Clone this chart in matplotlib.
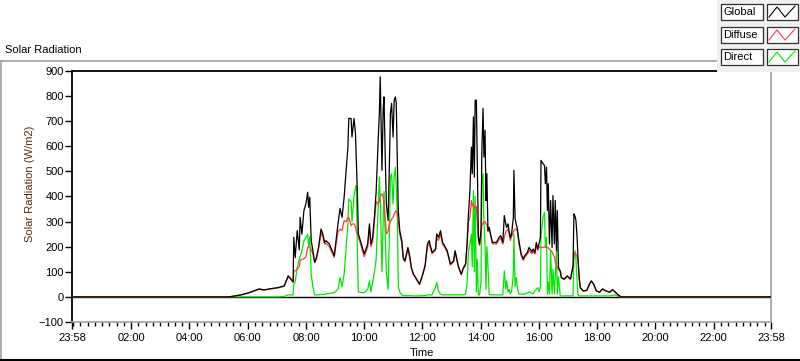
import matplotlib
matplotlib.use("Agg")
import matplotlib.pyplot as plt
from matplotlib.lines import Line2D
from matplotlib.patches import Rectangle
from matplotlib.ticker import FixedLocator, MultipleLocator

# --- data (time in hours, radiation in W/m2) ---
time_h = [
    -0.03, 5.36, 5.77, 6.05, 6.39, 6.56, 6.80, 7.04, 7.25, 7.39, 7.49, 7.56,
    7.58, 7.63, 7.70, 7.77, 7.80, 7.86, 7.93, 8.00, 8.06, 8.09, 8.13, 8.18,
    8.24, 8.30, 8.36, 8.43, 8.52, 8.58, 8.64, 8.69, 8.80, 8.97, 9.10, 9.17,
    9.24, 9.31, 9.38, 9.44, 9.47, 9.55, 9.58, 9.65, 9.70, 9.73, 9.77, 9.80,
    9.90, 10.00, 10.12, 10.18, 10.23, 10.29, 10.35, 10.41, 10.47, 10.52, 10.55, 10.61,
    10.65, 10.68, 10.72, 10.76, 10.82, 10.86, 10.90, 10.94, 10.99, 11.03, 11.07, 11.10,
    11.14, 11.17, 11.22, 11.29, 11.34, 11.40, 11.45, 11.50, 11.56, 11.62, 11.69, 11.80,
    11.90, 12.01, 12.09, 12.17, 12.23, 12.33, 12.45, 12.49, 12.55, 12.62, 12.69, 12.76,
    12.85, 12.96, 13.07, 13.12, 13.23, 13.33, 13.41, 13.48, 13.53, 13.58, 13.63, 13.68,
    13.71, 13.75, 13.78, 13.81, 13.85, 13.88, 13.92, 13.96, 14.01, 14.04, 14.08, 14.11,
    14.15, 14.18, 14.21, 14.25, 14.29, 14.40, 14.54, 14.63, 14.69, 14.76, 14.81, 14.86,
    14.89, 14.94, 14.97, 15.02, 15.06, 15.12, 15.14, 15.18, 15.22, 15.26, 15.31, 15.39,
    15.46, 15.51, 15.60, 15.66, 15.76, 15.80, 15.86, 15.91, 15.96, 16.00, 16.05, 16.07,
    16.14, 16.19, 16.22, 16.26, 16.29, 16.32, 16.36, 16.40, 16.45, 16.48, 16.53, 16.56,
    16.60, 16.63, 16.67, 16.73, 16.77, 16.87, 16.97, 17.08, 17.17, 17.20, 17.24, 17.27,
    17.31, 17.34, 17.38, 17.42, 17.52, 17.64, 17.73, 17.80, 17.88, 17.97, 18.08, 18.18,
    18.30, 18.43, 18.52, 18.60, 18.72, 18.83, 23.97,
]
global_wm2 = [
    0, 0, 8, 17, 32, 28, 33, 37, 44, 84, 71, 60,
    237, 157, 264, 187, 317, 250, 344, 372, 417, 357, 397, 224,
    183, 137, 157, 197, 271, 250, 217, 224, 211, 164, 291, 352,
    317, 397, 504, 597, 711, 711, 637, 711, 650, 544, 397, 251,
    211, 171, 211, 291, 211, 237, 317, 420, 597, 731, 877, 504,
    744, 797, 571, 371, 304, 504, 731, 771, 637, 784, 797, 771,
    531, 344, 264, 224, 157, 144, 171, 197, 164, 117, 91, 71,
    51, 91, 125, 211, 224, 177, 191, 251, 237, 264, 217, 204,
    184, 131, 144, 184, 124, 91, 117, 131, 211, 331, 424, 597,
    491, 717, 477, 784, 784, 557, 237, 211, 264, 584, 751, 557,
    664, 384, 491, 264, 277, 217, 217, 237, 244, 217, 324, 291,
    277, 291, 264, 237, 251, 317, 504, 311, 291, 270, 224, 171,
    151, 164, 177, 197, 180, 191, 177, 217, 191, 211, 237, 544,
    531, 524, 451, 517, 344, 451, 211, 384, 197, 404, 211, 384,
    184, 344, 117, 104, 77, 71, 84, 71, 124, 331, 320, 304,
    237, 157, 77, 37, 24, 26, 51, 64, 51, 24, 19, 32,
    24, 19, 29, 22, 8, 0, 0,
]
diffuse_wm2 = [
    0, 0, 8, 16, 30, 27, 32, 36, 42, 80, 68, 58,
    100, 104, 110, 120, 145, 150, 152, 160, 197, 200, 197, 190,
    170, 137, 150, 190, 255, 240, 210, 215, 200, 157, 260, 270,
    264, 304, 300, 317, 317, 284, 290, 291, 280, 260, 251, 240,
    200, 160, 200, 280, 200, 220, 300, 380, 371, 380, 400, 411,
    400, 370, 317, 251, 260, 291, 300, 310, 317, 330, 340, 344,
    330, 300, 250, 215, 150, 140, 165, 190, 158, 113, 88, 68,
    49, 88, 120, 200, 212, 172, 186, 235, 225, 250, 210, 198,
    178, 127, 140, 178, 120, 88, 113, 126, 200, 300, 317, 384,
    364, 370, 350, 360, 360, 300, 230, 205, 255, 291, 291, 300,
    300, 290, 290, 260, 270, 212, 210, 228, 235, 210, 237, 260,
    264, 270, 255, 225, 240, 260, 264, 270, 270, 260, 215, 165,
    145, 158, 170, 185, 172, 182, 170, 205, 185, 200, 197, 197,
    197, 200, 197, 197, 197, 195, 190, 185, 180, 170, 160, 140,
    120, 117, 110, 100, 75, 69, 82, 69, 120, 165, 177, 170,
    160, 150, 74, 35, 23, 25, 49, 62, 49, 23, 18, 30,
    23, 18, 28, 20, 7, 0, 0,
]
direct_wm2 = [
    0, 0, 0, 0, 0, 0, 0, 0, 2, 8, 8, 8,
    50, 60, 117, 150, 160, 184, 224, 237, 250, 200, 240, 90,
    37, 8, 8, 8, 10, 10, 10, 12, 14, 17, 30, 77,
    40, 90, 200, 290, 390, 380, 300, 400, 437, 444, 150, 20,
    17, 17, 30, 64, 20, 60, 97, 150, 331, 477, 400, 100,
    300, 420, 250, 100, 30, 220, 480, 490, 370, 480, 517, 440,
    300, 40, 20, 8, 5, 5, 5, 5, 5, 5, 4, 4,
    4, 5, 5, 8, 8, 8, 40, 57, 25, 10, 8, 8,
    8, 8, 8, 8, 8, 8, 8, 10, 51, 184, 211, 250,
    120, 424, 100, 400, 20, 150, 8, 8, 60, 451, 491, 300,
    200, 30, 200, 120, 10, 8, 8, 8, 8, 8, 104, 30,
    64, 20, 30, 12, 20, 91, 251, 40, 77, 37, 11, 11,
    11, 12, 15, 20, 15, 12, 25, 30, 37, 20, 40, 244,
    317, 337, 200, 237, 11, 60, 11, 184, 11, 110, 11, 80,
    184, 11, 80, 4, 4, 4, 4, 4, 4, 157, 184, 150,
    60, 8, 4, 4, 4, 4, 4, 4, 4, 4, 4, 4,
    4, 4, 6, 8, 2, 0, 0,
]

x_tick_hours = [-0.033, 2, 4, 6, 8, 10, 12, 14, 16, 18, 20, 22, 23.967]
x_tick_labels = ["23:58", "02:00", "04:00", "06:00", "08:00", "10:00", "12:00",
                 "14:00", "16:00", "18:00", "20:00", "22:00", "23:58"]
y_ticks = [-100, 0, 100, 200, 300, 400, 500, 600, 700, 800, 900]
legend_names = ["Global", "Diffuse", "Direct"]
series_colors = ["#000000", "#ff3c3c", "#00e800"]

W, H = 800, 361


def fx(px):
    return px / W


def fy(py):
    return 1 - py / H


plt.rcParams["font.family"] = ["Liberation Sans", "DejaVu Sans"]
plt.rcParams["font.size"] = 8

fig = plt.figure(figsize=(W / 100, H / 100), dpi=100)
fig.patch.set_facecolor("white")

ax = fig.add_axes([fx(72), fy(322), fx(771) - fx(72), fy(71) - fy(322)])
ax.axhline(0, color="black", lw=1.0, zorder=1.5)
series = [global_wm2, diffuse_wm2, direct_wm2]
zorders = [4, 3, 2]
for vals, color, z in zip(series, series_colors, zorders):
    ax.plot(time_h, vals, color=color, lw=0.9, zorder=z)

ax.set_xlim(x_tick_hours[0], x_tick_hours[-1])
ax.set_ylim(-100, 900)
ax.set_yticks(y_ticks)
ax.xaxis.set_major_locator(FixedLocator(x_tick_hours))
ax.set_xticklabels(x_tick_labels)
ax.xaxis.set_minor_locator(MultipleLocator(0.25))

for side in ("top", "left"):
    ax.spines[side].set_color("black")
    ax.spines[side].set_linewidth(1.3)
for side in ("right", "bottom"):
    ax.spines[side].set_color("#a0a0a0")
    ax.spines[side].set_linewidth(1.2)

ax.tick_params(axis="y", direction="out", length=5, width=1, pad=1, labelsize=8)
ax.tick_params(axis="x", which="major", direction="out", length=5, width=1, pad=3, labelsize=8)
ax.tick_params(axis="x", which="minor", direction="out", length=3, width=1)

fig.text(fx(422), fy(353), "Time", ha="center", va="center", fontsize=8)
fig.text(fx(30), fy(184), "Solar Radiation (W/m2)", rotation=90,
         ha="center", va="center", fontsize=8, color="#5a2d0c")
fig.text(fx(5), fy(50), "Solar Radiation", ha="left", va="center", fontsize=8)

# outer frame
fig.add_artist(Line2D([fx(0), fx(717)], [fy(61), fy(61)], color="#a0a0a0", lw=1.2))
fig.add_artist(Line2D([fx(0.5), fx(0.5)], [fy(61), fy(360)], color="#a0a0a0", lw=1.2))
fig.add_artist(Line2D([fx(0), fx(800)], [fy(360), fy(360)], color="black", lw=1.5))

# legend panel
fig.add_artist(Rectangle((fx(717), fy(72)), fx(83), fy(0) - fy(72),
                         facecolor="#f0f0f0", edgecolor="none", zorder=5))
row_tops = [4, 27, 49]
for name, color, top in zip(legend_names, series_colors, row_tops):
    fig.add_artist(Rectangle((fx(721), fy(top + 16)), fx(42), fy(top) - fy(top + 16),
                             facecolor="white", edgecolor="#303030", lw=0.9, zorder=6))
    fig.text(fx(723), fy(top + 8), name, ha="left", va="center", fontsize=8, zorder=7)
    fig.add_artist(Rectangle((fx(767), fy(top + 16)), fx(31), fy(top) - fy(top + 16),
                             facecolor="white", edgecolor="#303030", lw=0.9, zorder=6))
    icon_x = [fx(769), fx(777), fx(785), fx(795)]
    icon_y = [fy(top + 13), fy(top + 3), fy(top + 13), fy(top + 2)]
    fig.add_artist(Line2D(icon_x, icon_y, color=color, lw=0.8, zorder=7))

fig.savefig("out.png", dpi=100)
